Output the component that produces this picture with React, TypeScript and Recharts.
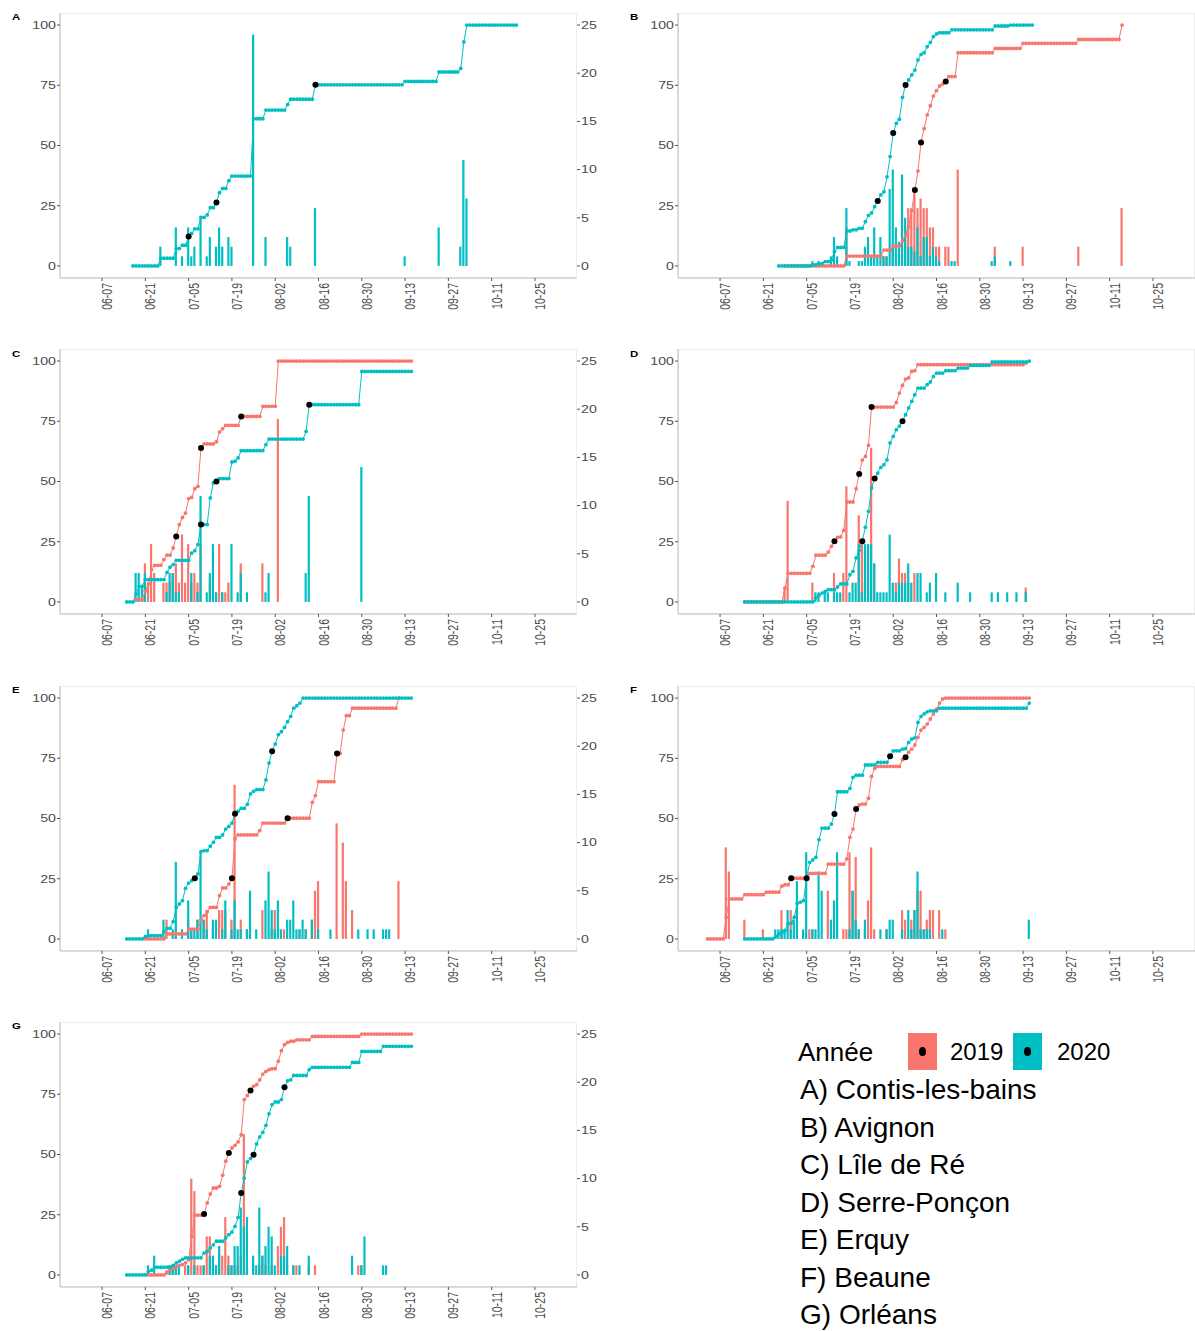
import React from 'react';
import { ComposedChart, Line, Bar, XAxis, YAxis } from 'recharts';

const RED = '#F8766D';
const TEAL = '#00BFC4';
const FONT = '"Liberation Sans", Arial, sans-serif';

type Pair = [number, number];

// day 0 = 1 June; x ticks every two weeks
const dayTicks = [6, 20, 34, 48, 62, 76, 90, 104, 118, 132, 146];
const leftTicks = [0, 25, 50, 75, 100];
const rightTicks = [0, 5, 10, 15, 20, 25];

// cumulative % as [first day, value] runs (value holds until next run), daily bars [day, count], quartile marks [day, %]

// A) Contis-les-bains (2020 only)
const aLine20: Pair[] = [[16,0],[25,3.2],[30,7.2],[32,8.6],[34,12.2],[35,13.5],[36,15.4],[38,20.2],[40,21.2],[41,24.2],[43,26.3],[44,30.4],[45,32.2],[47,35.4],[48,37.3],[55,61.1],[59,64.7],[66,67],[67,69.2],[75,75.2],[104,76.6],[115,80.5],[122,82],[123,93],[124,100]];
const aBars20: Pair[] = [[25,2],[30,4],[32,1],[34,4],[35,1],[36,2],[38,5],[40,1],[41,3],[43,2],[44,4],[45,2],[47,3],[48,2],[55,24],[59,3],[66,3],[67,2],[75,6],[104,1],[115,4],[122,2],[123,11],[124,7]];
const aQuart20: Pair[] = [[34,12.2],[43,26.3],[75,75.2]];

// B) Avignon
const bLine19: Pair[] = [[27,0],[47,4.1],[59,6.6],[62,8.3],[65,10.4],[66,12.9],[67,16.3],[68,23],[69,31.5],[70,39.4],[71,51.2],[72,57],[73,62.7],[74,66.5],[75,70.5],[76,72.8],[77,74.7],[78,75.5],[79,76.6],[80,78.6],[83,88.5],[95,90.3],[104,92.4],[122,94],[136,100]];
const bLine20: Pair[] = [[25,0],[36,0.5],[38,1],[40,1.8],[42,2.5],[43,6],[44,7.7],[47,14.5],[49,15],[51,15.6],[53,18.4],[54,21],[55,22],[56,24.6],[57,27],[58,29.5],[59,30.8],[60,37],[61,45.4],[62,55.2],[63,59.2],[64,60.9],[65,70],[66,75.1],[67,77.2],[68,79.3],[69,81.3],[70,85.5],[71,87.8],[72,88.5],[73,91],[74,92.8],[75,95.2],[76,96.3],[77,96.8],[81,98],[95,99.6],[100,100]];
const bBars19: Pair[] = [[47,4],[59,1],[60,1],[62,2],[64,1],[66,4],[67,6],[68,6],[69,8],[70,6],[71,7],[72,6],[73,6],[74,4],[75,4],[76,2],[77,2],[79,2],[80,2],[83,10],[95,2],[104,2],[122,2],[136,6]];
const bBars20: Pair[] = [[36,0.5],[38,0.5],[42,1],[43,3],[44,1],[47,6],[48,0.5],[51,0.5],[52,0.5],[53,2],[54,3],[55,1],[56,4],[57,1],[58,3],[59,1],[60,1],[61,8],[62,10],[63,4],[64,2.5],[65,9.5],[66,5],[67,2],[68,2],[69,1.5],[70,4],[71,1],[72,3],[73,3],[74,1],[75,2],[76,1],[77,0.5],[81,0.5],[82,0.5],[94,0.5],[95,1],[100,0.5]];
const bQuart19: Pair[] = [[69,31.5],[71,51.2],[79,76.6]];
const bQuart20: Pair[] = [[57,27],[62,55.2],[66,75.1]];

// C) Lîle de Ré
const cLine19: Pair[] = [[17,1],[20,4.4],[21,7.5],[22,13.4],[23,15.2],[26,17.6],[27,19.4],[29,22.4],[30,27.2],[31,32.1],[32,35.1],[33,36.9],[34,42.9],[35,43.4],[36,47],[37,48],[38,63.9],[39,65.6],[43,66.5],[44,70.5],[45,71.9],[46,73.3],[51,77],[58,81.2],[63,100]];
const cLine20: Pair[] = [[14,0],[17,3.3],[18,6.5],[20,9.3],[27,12.3],[28,14.4],[29,15.5],[30,17.3],[35,20.3],[36,21.3],[37,23.8],[38,32.1],[41,43.2],[42,49.4],[43,50],[44,51.2],[48,58.1],[49,58.4],[50,59.8],[51,62.8],[59,65.3],[60,67.6],[72,70.8],[73,81.9],[90,95.7]];
const cBars19: Pair[] = [[18,0.5],[20,4],[21,2],[22,6],[23,3],[26,2],[27,2],[28,2],[29,3],[30,4],[31,2],[32,7],[33,2],[34,6],[35,2],[36,3],[37,2],[38,6],[41,2],[43,1],[44,6],[45,1],[46,1],[47,2],[51,4],[58,4],[63,19]];
const cBars20: Pair[] = [[17,3],[18,3],[19,1.5],[20,3],[27,1],[28,3],[29,3],[30,1],[31,1],[35,3],[37,1],[38,11],[40,1],[41,3],[42,6],[43,1],[45,1],[48,6],[50,1],[51,3],[53,1],[59,1],[60,3],[72,3],[73,11],[90,14]];
const cQuart19: Pair[] = [[30,27.2],[38,63.9],[51,77]];
const cQuart20: Pair[] = [[38,32.1],[43,50],[73,81.9]];

// D) Serre-Ponçon
const dLine19: Pair[] = [[14,0],[27,5.8],[28,11.9],[36,14.8],[37,19.4],[41,20.7],[42,23.1],[43,25.2],[44,26.8],[45,27],[46,29.7],[47,41.5],[50,47],[51,53.1],[52,58.9],[53,60.4],[54,65],[55,80.9],[63,82.8],[64,86.7],[65,89.9],[66,92.5],[67,93],[68,95.7],[69,96],[70,98.5],[105,99.2]];
const dLine20: Pair[] = [[14,0],[37,1.7],[38,2.8],[39,3.7],[40,4.4],[41,5.1],[44,6.2],[45,7.5],[48,11.3],[49,12.7],[50,18.3],[51,21.5],[52,25.2],[53,31],[54,37.6],[55,47.3],[56,51.2],[57,53.5],[58,55.9],[59,57],[60,59],[61,66],[62,68.7],[63,71.5],[64,73],[65,75],[66,77.7],[67,80.5],[68,83.3],[69,86],[70,88.8],[73,90.2],[74,91.3],[75,93.6],[76,95],[79,96],[83,97.1],[87,98.2],[94,99.6],[106,100]];
const dBars19: Pair[] = [[27,1.5],[28,10.5],[36,2],[43,3],[46,3],[47,12],[51,9],[52,6],[53,2],[54,6],[55,16],[56,4],[63,2],[64,4.5],[65,3],[66,3],[67,2],[69,3],[105,1.5]];
const dBars20: Pair[] = [[37,1],[38,1],[40,1],[41,1],[43,1],[44,1],[45,1],[48,1],[49,2],[50,2],[51,6],[52,1],[53,6],[54,6],[55,6],[56,4],[57,1],[58,1],[59,1],[60,1],[61,7],[62,2],[63,1],[64,2],[65,2],[66,2],[67,4],[68,2],[70,3],[71,3],[73,1],[74,2],[76,3],[79,1],[83,2],[87,1],[94,1],[96,1],[99,1],[102,1],[105,1]];
const dQuart19: Pair[] = [[43,25.2],[51,53.1],[55,80.9]];
const dQuart20: Pair[] = [[52,25.2],[56,51.2],[65,75]];

// E) Erquy
const eLine19: Pair[] = [[20,0],[27,2.1],[34,4.1],[38,8],[39,9.7],[40,11.3],[41,13.1],[44,18],[45,21.2],[47,22.8],[48,25.2],[49,41.5],[50,43.2],[57,45],[58,48.1],[66,50.1],[74,56.7],[75,59.5],[76,65.3],[82,77],[84,86.7],[85,92.7],[87,95.8],[102,100]];
const eLine20: Pair[] = [[14,0],[20,1],[21,1.4],[26,3],[27,4.4],[29,7.2],[30,13.1],[31,14.5],[32,15.9],[33,21],[34,23.2],[35,24.2],[36,25.2],[37,27],[38,36.2],[39,36.7],[41,38.5],[42,40.1],[43,42.2],[45,43.2],[46,45.6],[47,46.7],[48,48.1],[49,52],[50,53],[51,54.2],[53,55.9],[54,60.2],[55,61.3],[56,62],[59,66],[60,73],[61,77.9],[62,80.9],[63,84.8],[64,86],[65,87.8],[66,90.2],[67,92.4],[68,95.8],[69,96.8],[70,97.9],[71,100]];
const eBars19: Pair[] = [[27,2],[30,1],[34,2],[35,1],[37,2],[39,2],[40,3],[42,1],[44,3],[45,3],[46,3],[48,2],[49,16],[51,2],[53,1],[58,3],[61,1],[62,3],[65,1],[70,1],[72,1],[74,2],[75,5],[76,6],[82,12],[84,10],[85,6],[87,3],[102,6]];
const eBars20: Pair[] = [[21,1],[26,2],[29,1],[30,8],[32,1],[34,4],[35,1],[36,1],[37,2],[38,9],[39,2],[40,1],[42,2],[43,2],[45,1],[46,4],[48,1],[49,4],[50,1],[51,1],[53,1],[54,5],[56,1],[59,4],[60,7],[61,3],[62,1],[63,4],[64,1],[66,2],[67,2],[68,4],[69,1],[70,1],[71,2],[72,1],[74,2],[76,1],[80,1],[89,1],[92,1],[94,1],[97,1],[98,1],[99,1]];
const eQuart19: Pair[] = [[48,25.2],[66,50.1],[82,77]];
const eQuart20: Pair[] = [[36,25.2],[49,52],[61,77.9]];

// F) Beaune
const fLine19: Pair[] = [[2,0],[8,9],[9,16.6],[14,18.4],[21,19.4],[26,21.9],[27,22.5],[29,25.2],[35,27.2],[41,31.1],[47,33.2],[48,42.2],[49,45.6],[50,53.9],[51,55.6],[52,56],[54,58.4],[55,67.5],[56,70.8],[57,71.6],[65,74.4],[66,75.4],[67,77.5],[68,78.8],[69,80.5],[70,83.7],[71,86.7],[72,87.8],[73,89.2],[74,91.3],[75,93.4],[76,95.4],[77,97.9],[78,99.6],[79,100]];
const fLine20: Pair[] = [[14,0],[24,1.1],[25,2.1],[26,2.8],[27,3.5],[28,6.2],[29,6.6],[30,9],[31,14.8],[32,15.3],[33,15.9],[34,25.2],[35,31.8],[36,32.8],[37,33.9],[38,41.2],[39,46],[42,47.7],[43,51.9],[44,61.1],[48,62.5],[49,67.1],[50,68],[53,72.2],[57,73.3],[61,75.8],[62,78.1],[65,78.8],[66,79],[67,81.6],[68,83],[69,83.5],[70,89.9],[71,92.4],[72,93.4],[73,94.3],[74,94.7],[77,95.8],[106,97.9]];
const fBars19: Pair[] = [[8,9.5],[9,7],[14,2],[20,1],[26,3],[29,3],[35,1],[36,1],[41,5],[46,1],[47,1],[48,9],[49,5],[50,8.5],[51,1],[53,1],[54,4],[55,9.5],[56,1],[60,1],[65,3],[66,2],[68,2],[69,3],[70,5],[71,5],[72,1],[73,2],[74,3],[75,3],[77,3],[79,1]];
const fBars20: Pair[] = [[24,1],[25,1],[26,1],[27,1],[28,3],[29,1],[30,2],[31,6],[33,1],[34,9],[36,1],[37,1],[38,7],[39,5],[42,2],[43,4],[44,9],[48,1],[49,5],[50,2],[51,1],[53,2],[58,1],[60,1],[61,2],[62,2],[65,1],[67,3],[68,1],[69,3],[70,7],[71,1],[72,1],[73,1],[74,1],[78,1],[106,2]];
const fQuart19: Pair[] = [[29,25.2],[50,53.9],[66,75.4]];
const fQuart20: Pair[] = [[34,25.2],[43,51.9],[61,75.8]];

// G) Orléans
const gLine19: Pair[] = [[21,0],[27,1.2],[28,2.2],[29,2.9],[30,3.6],[31,4],[32,4.3],[33,5],[34,6.4],[35,16],[36,24.8],[39,25.3],[40,29.9],[41,33.6],[42,36.1],[44,36.8],[45,41.4],[46,47.2],[47,50.6],[48,52.7],[49,53.8],[50,55.2],[51,58.2],[52,72.8],[53,74.5],[54,76.6],[55,78.3],[56,79],[57,81],[58,83.4],[59,84.5],[60,85.2],[61,85.6],[63,88.7],[64,93.1],[65,95.6],[66,96.5],[67,97],[69,97.6],[74,99],[90,100]];
const gLine20: Pair[] = [[14,0],[21,1.5],[22,2],[23,3.2],[29,4],[30,5],[31,5.7],[32,6.5],[33,7.1],[39,9.1],[40,9.8],[41,11.2],[42,12.5],[43,14],[46,15.4],[47,16.7],[48,17.8],[49,20.2],[50,23.9],[51,34],[52,40.2],[53,46.9],[54,48.3],[55,49.9],[56,54.4],[57,57.3],[58,59.2],[59,62.1],[60,66.9],[61,70.7],[62,71.8],[64,72.8],[65,77.9],[66,80.6],[67,81],[68,82.8],[73,85.2],[74,86.2],[87,88.2],[90,92.8],[97,94.9]];
const gBars19: Pair[] = [[27,0.5],[28,1],[29,1],[30,1],[31,1],[33,1],[34,1],[35,10],[36,8.7],[37,1],[38,1],[39,1],[40,4],[41,4],[42,1],[43,1],[44,3],[45,2],[46,6],[47,2],[48,1],[49,1],[50,1],[51,2],[52,14.6],[53,2],[55,1],[57,1],[58,2],[59,1],[61,1],[63,3],[64,5],[65,6],[66,1],[68,1],[69,1],[73,1],[75,1],[89,1],[90,1]];
const gBars20: Pair[] = [[21,1],[23,2],[28,1],[29,1],[30,1],[31,1],[34,1],[36,1],[39,1],[41,2],[42,2],[43,1],[44,3],[47,1],[48,1],[49,3],[50,3],[51,7],[52,5],[53,6],[55,2],[56,1],[57,7],[58,2],[59,3],[60,5],[61,4],[62,1],[64,2],[65,2],[66,3],[68,1],[70,1],[73,2],[87,2],[90,1],[91,4],[97,1],[98,1]];
const gQuart19: Pair[] = [[39,25.3],[47,50.6],[54,76.6]];
const gQuart20: Pair[] = [[51,34],[55,49.9],[65,77.9]];

const siteNames = ['A) Contis-les-bains', 'B) Avignon', 'C) Lîle de Ré', 'D) Serre-Ponçon', 'E) Erquy', 'F) Beaune', 'G) Orléans'];

type PanelDef = {
  id: string; col: number; row: number;
  l19: Pair[]; e19: number; b19: Pair[]; q19: Pair[];
  l20: Pair[]; e20: number; b20: Pair[]; q20: Pair[];
};

const panels: PanelDef[] = [
  { id: 'A', col: 0, row: 0, l19: [], e19: 0, b19: [], q19: [], l20: aLine20, e20: 140, b20: aBars20, q20: aQuart20 },
  { id: 'B', col: 1, row: 0, l19: bLine19, e19: 136, b19: bBars19, q19: bQuart19, l20: bLine20, e20: 107, b20: bBars20, q20: bQuart20 },
  { id: 'C', col: 0, row: 1, l19: cLine19, e19: 106, b19: cBars19, q19: cQuart19, l20: cLine20, e20: 106, b20: cBars20, q20: cQuart20 },
  { id: 'D', col: 1, row: 1, l19: dLine19, e19: 105, b19: dBars19, q19: dQuart19, l20: dLine20, e20: 106, b20: dBars20, q20: dQuart20 },
  { id: 'E', col: 0, row: 2, l19: eLine19, e19: 102, b19: eBars19, q19: eQuart19, l20: eLine20, e20: 106, b20: eBars20, q20: eQuart20 },
  { id: 'F', col: 1, row: 2, l19: fLine19, e19: 106, b19: fBars19, q19: fQuart19, l20: fLine20, e20: 106, b20: fBars20, q20: fQuart20 },
  { id: 'G', col: 0, row: 3, l19: gLine19, e19: 106, b19: gBars19, q19: gQuart19, l20: gLine20, e20: 106, b20: gBars20, q20: gQuart20 },
];

// step runs -> one value per day (value held until next run)
function holdRuns(runs: Pair[], end: number) {
  const out: Record<number, number> = {};
  if (!runs.length) return out;
  let i = 0;
  for (let d = runs[0][0]; d <= end; d++) {
    while (i + 1 < runs.length && runs[i + 1][0] <= d) i++;
    out[d] = runs[i][1];
  }
  return out;
}

const toMap = (pairs: Pair[]) => Object.fromEntries(pairs) as Record<number, number>;

function buildRows(p: PanelDef) {
  const c19 = holdRuns(p.l19, p.e19);
  const c20 = holdRuns(p.l20, p.e20);
  const b19 = toMap(p.b19), b20 = toMap(p.b20), q19 = toMap(p.q19), q20 = toMap(p.q20);
  const rows = [];
  for (let d = 0; d <= 152; d++) {
    rows.push({
      day: d,
      c19: c19[d] ?? null, c20: c20[d] ?? null,
      b19: b19[d] ?? null, b20: b20[d] ?? null,
      q19: q19[d] ?? null, q20: q20[d] ?? null,
    });
  }
  return rows;
}

const base = Date.UTC(2020, 5, 1);
const fmtDay = (d: number) => {
  const dt = new Date(base + d * 86400000);
  return String(dt.getUTCMonth() + 1).padStart(2, '0') + '-' + String(dt.getUTCDate()).padStart(2, '0');
};

const XTick = (props: any) => {
  const { x, y, payload } = props;
  return (
    <text transform={`translate(${x},${y}) scale(1.33,1) rotate(-90)`} textAnchor="end" dy="0.72em"
      fontSize={10.5} fill="#4d4d4d" fontFamily={FONT}>{fmtDay(payload.value)}</text>
  );
};

const LTick = (props: any) => {
  const { x, y, payload } = props;
  return (
    <text transform={`translate(${x},${y}) scale(1.35,1)`} textAnchor="end" dy="0.36em"
      fontSize={10.5} fill="#4d4d4d" fontFamily={FONT}>{payload.value}</text>
  );
};

const RTick = (props: any) => {
  const { x, y, payload } = props;
  return (
    <text transform={`translate(${x},${y}) scale(1.35,1)`} textAnchor="start" dy="0.36em"
      fontSize={10.5} fill="#4d4d4d" fontFamily={FONT}>{payload.value}</text>
  );
};

function Panel({ p }: { p: PanelDef }) {
  const rows = buildRows(p);
  const has19 = p.l19.length > 0;
  // right-hand column is cut at the picture edge, so its secondary axis labels are not shown
  const showRight = p.col === 0;
  return (
    <div style={{ position: 'absolute', left: p.col * 617.5, top: p.row * 336.3, width: 600, height: 336 }}>
      <div style={{ position: 'absolute', left: 60, top: 13, width: 517, height: 265, border: '1px solid #eeeeee', boxSizing: 'border-box' }} />
      <div style={{ position: 'absolute', left: 12, top: 12.4, fontSize: 9.5, lineHeight: '10px', fontWeight: 700, fontFamily: FONT, transform: 'scaleX(1.2)', transformOrigin: 'left top' }}>{p.id}</div>
      <ComposedChart width={600} height={336} data={rows} margin={{ top: 13, right: 0, bottom: 0, left: 20 }} barGap={-2.2}>
        <XAxis dataKey="day" type="number" domain={[-7.6, 159.6]} allowDataOverflow ticks={dayTicks} interval={0}
          height={58} tickSize={3} tickMargin={2} tick={<XTick />} axisLine={{ stroke: '#bdbdbd' }} tickLine={{ stroke: '#555' }} />
        <YAxis yAxisId="l" domain={[-5, 105]} allowDataOverflow ticks={leftTicks} interval={0} width={40}
          tickSize={3} tickMargin={1} tick={<LTick />} axisLine={{ stroke: '#bdbdbd' }} tickLine={{ stroke: '#555' }} />
        <YAxis yAxisId="r" orientation="right" domain={[-1.25, 26.25]} allowDataOverflow ticks={rightTicks} interval={0} width={23}
          tickSize={3} tickMargin={1} tick={showRight ? <RTick /> : false} axisLine={false}
          tickLine={showRight ? { stroke: '#555' } : false} />
        {has19 && <Bar yAxisId="r" dataKey="b19" fill={RED} barSize={2.2} isAnimationActive={false} />}
        <Bar yAxisId="r" dataKey="b20" fill={TEAL} barSize={2.2} isAnimationActive={false} />
        {has19 && <Line yAxisId="l" dataKey="c19" stroke={RED} strokeWidth={1} isAnimationActive={false}
          dot={{ r: 1.9, fill: RED, stroke: 'none' }} activeDot={false} />}
        <Line yAxisId="l" dataKey="c20" stroke={TEAL} strokeWidth={1} isAnimationActive={false}
          dot={{ r: 1.9, fill: TEAL, stroke: 'none' }} activeDot={false} />
        {has19 && <Line yAxisId="l" dataKey="q19" stroke="none" isAnimationActive={false}
          dot={{ r: 3, fill: '#000', stroke: 'none' }} activeDot={false} />}
        <Line yAxisId="l" dataKey="q20" stroke="none" isAnimationActive={false}
          dot={{ r: 3, fill: '#000', stroke: 'none' }} activeDot={false} />
      </ComposedChart>
    </div>
  );
}

function Key({ left, color }: { left: number; color: string }) {
  return (
    <div style={{ position: 'absolute', left, top: 1033, width: 29, height: 37, background: color }}>
      <div style={{ position: 'absolute', left: 11, top: 14, width: 7, height: 9, borderRadius: '50%', background: '#000' }} />
    </div>
  );
}

export default function App() {
  const txt = { position: 'absolute' as const, fontFamily: FONT, color: '#000', whiteSpace: 'nowrap' as const };
  return (
    <div style={{ position: 'absolute', left: 0, top: 0, width: 1195, height: 1331, overflow: 'hidden', background: '#fff' }}>
      {panels.map(p => <Panel key={p.id} p={p} />)}
      <div style={{ ...txt, left: 798, top: 1037, fontSize: 26, lineHeight: '30px' }}>Année</div>
      <Key left={908} color={RED} />
      <div style={{ ...txt, left: 950, top: 1038, fontSize: 24, lineHeight: '28px' }}>2019</div>
      <Key left={1013} color={TEAL} />
      <div style={{ ...txt, left: 1057, top: 1038, fontSize: 24, lineHeight: '28px' }}>2020</div>
      {siteNames.map((s, i) => (
        <div key={s} style={{ ...txt, left: 800, top: 1074.3 + 37.5 * i, fontSize: 28, lineHeight: '32px' }}>{s}</div>
      ))}
    </div>
  );
}
